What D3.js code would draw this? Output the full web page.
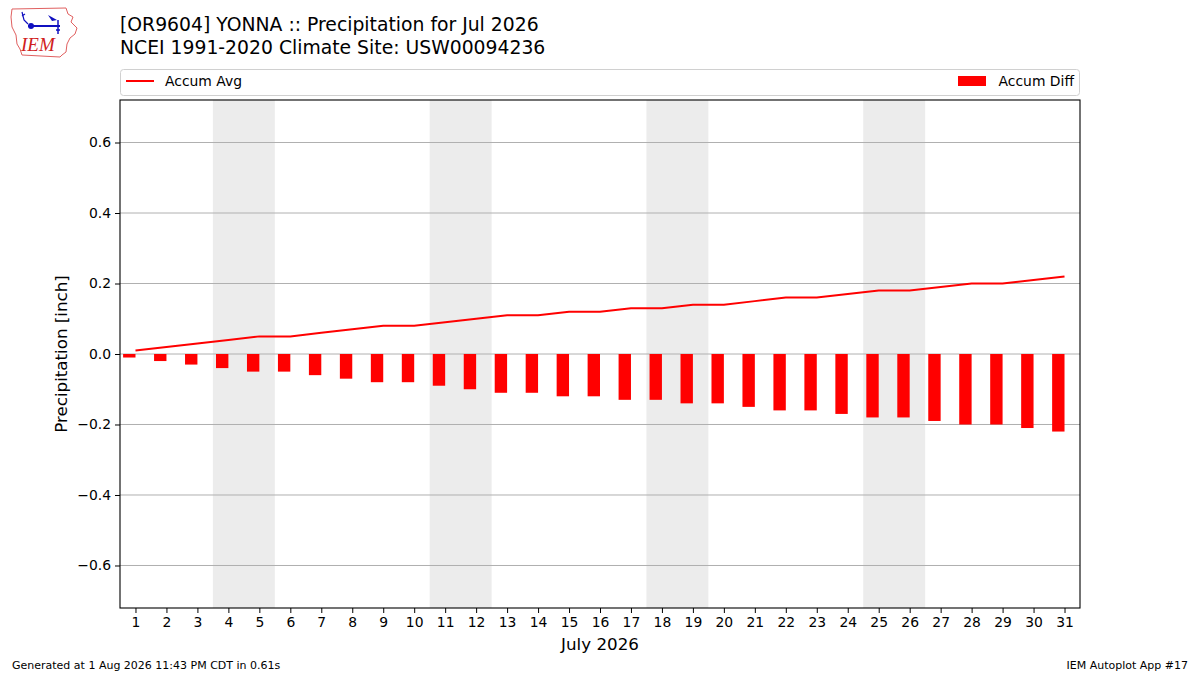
<!DOCTYPE html>
<html><head><meta charset="utf-8">
<script src="https://cdn.jsdelivr.net/npm/d3@7"></script>
<style>body{margin:0;background:#fff;}svg{display:block;font-family:"DejaVu Sans",sans-serif;}</style>
</head><body><svg id="c" width="1200" height="675"></svg>
<script>
const days = d3.range(1, 32);
const accumAvg = [0.01,0.02,0.03,0.04,0.05,0.05,0.06,0.07,0.08,0.08,0.09,0.10,0.11,0.11,0.12,0.12,0.13,0.13,0.14,0.14,0.15,0.16,0.16,0.17,0.18,0.18,0.19,0.20,0.20,0.21,0.22];
const accumDiff = [-0.01,-0.02,-0.03,-0.04,-0.05,-0.05,-0.06,-0.07,-0.08,-0.08,-0.09,-0.10,-0.11,-0.11,-0.12,-0.12,-0.13,-0.13,-0.14,-0.14,-0.15,-0.16,-0.16,-0.17,-0.18,-0.18,-0.19,-0.20,-0.20,-0.21,-0.22];
const weekends = [[4,5],[11,12],[18,19],[25,26]];
const yTicks = [-0.6,-0.4,-0.2,0.0,0.2,0.4,0.6];
const titleLines = ["[OR9604] YONNA :: Precipitation for Jul 2026","NCEI 1991-2020 Climate Site: USW00094236"];

const svg = d3.select("#c");
const L=120, R=1080, T=100, B=608;
const x = d3.scaleLinear().domain([0.5,31.5]).range([L,R]);
const y = d3.scaleLinear().domain([-0.7206,0.7206]).range([B,T]);

// logo
const logo = svg.append("g");
logo.append("path").attr("d","M12,9 L66,8 L68,14 L73,17 L71,22 L77,28 L75,34 L70,38 L67,44 L66,52 L62,55 L60,57 L22,55 L20,49 L17,44 L16,35 L12,27 L11,17 Z")
  .attr("fill","#fff").attr("stroke","#e06060").attr("stroke-width",1);
logo.append("line").attr("x1",28).attr("y1",26).attr("x2",60).attr("y2",26).attr("stroke","#1010c0").attr("stroke-width",2);
logo.append("circle").attr("cx",31).attr("cy",26).attr("r",3).attr("fill","#1010c0");
logo.append("path").attr("d","M48,15 L57,20 L52,21 Z").attr("fill","#1010c0");
logo.append("path").attr("d","M58,20 L58,34 M56,30 L60,30").attr("stroke","#1010c0").attr("stroke-width",1.5).attr("fill","none");
logo.append("path").attr("d","M22,12 L24,20 L28,24 M22,16 L25,14").attr("stroke","#1010c0").attr("stroke-width",1.2).attr("fill","none");
logo.append("text").attr("x",21).attr("y",51).attr("font-family","Liberation Serif,serif").attr("font-style","italic")
  .attr("font-size",19).attr("fill","#d02020").text("IEM");

// titles
svg.selectAll("text.title").data(titleLines).enter().append("text").attr("class","title")
  .attr("x",120).attr("y",(d,i)=>30.5+i*23.5).attr("font-size",18.8).attr("fill","#000").text(d=>d);

// legend
svg.append("rect").attr("x",120.5).attr("y",69.5).attr("width",959).attr("height",26).attr("rx",3)
  .attr("fill","#fff").attr("stroke","#d0d0d0");
svg.append("line").attr("x1",126).attr("x2",154).attr("y1",81).attr("y2",81).attr("stroke","red").attr("stroke-width",2);
svg.append("text").attr("x",165).attr("y",86).attr("font-size",13.9).text("Accum Avg");
svg.append("rect").attr("x",958).attr("y",76).attr("width",28).attr("height",10).attr("fill","red");
svg.append("text").attr("x",1074).attr("y",86).attr("text-anchor","end").attr("font-size",13.9).text("Accum Diff");

// weekend shading
svg.selectAll("rect.wk").data(weekends).enter().append("rect").attr("class","wk")
  .attr("x",d=>x(d[0]-0.5)).attr("width",d=>x(d[1]+0.5)-x(d[0]-0.5))
  .attr("y",T).attr("height",B-T).attr("fill","#ececec");

// grid
svg.selectAll("line.grid").data(yTicks).enter().append("line").attr("class","grid")
  .attr("x1",L).attr("x2",R).attr("y1",d=>y(d)).attr("y2",d=>y(d)).attr("stroke","#b0b0b0").attr("stroke-width",1);

// bars
svg.selectAll("rect.bar").data(days).enter().append("rect").attr("class","bar")
  .attr("x",d=>x(d-0.4)).attr("width",d=>x(d)-x(d-0.4))
  .attr("y",(d,i)=>y(Math.max(0,accumDiff[i]))).attr("height",(d,i)=>Math.abs(y(accumDiff[i])-y(0)))
  .attr("fill","red");

// line
svg.append("path").datum(days).attr("fill","none").attr("stroke","red").attr("stroke-width",2)
  .attr("d",d3.line().x(d=>x(d)).y((d,i)=>y(accumAvg[i])));

// axes
const fmt = v => (v<0?"\u2212":"")+Math.abs(v).toFixed(1);
const xa = svg.append("g").attr("transform",`translate(0,${B})`)
  .call(d3.axisBottom(x).tickValues(days).tickFormat(d3.format("d")).tickSize(5).tickPadding(4));
const ya = svg.append("g").attr("transform",`translate(${L},0)`)
  .call(d3.axisLeft(y).tickValues(yTicks).tickFormat(fmt).tickSize(5).tickPadding(4));
[xa,ya].forEach(g=>{g.select(".domain").remove();g.selectAll("text").attr("font-size",13.9).attr("font-family","DejaVu Sans").attr("fill","#000");g.selectAll("line").attr("stroke","#000");});
svg.append("rect").attr("x",L).attr("y",T).attr("width",R-L).attr("height",B-T).attr("fill","none").attr("stroke","#000").attr("stroke-width",1.1);

// axis labels
svg.append("text").attr("x",(L+R)/2).attr("y",650).attr("text-anchor","middle").attr("font-size",16.7).text("July 2026");
svg.append("text").attr("transform",`translate(67,${(T+B)/2}) rotate(-90)`).attr("text-anchor","middle").attr("font-size",16.7).text("Precipitation [inch]");

// footer
svg.append("text").attr("x",12).attr("y",669).attr("font-size",11).text("Generated at 1 Aug 2026 11:43 PM CDT in 0.61s");
svg.append("text").attr("x",1188).attr("y",669).attr("text-anchor","end").attr("font-size",11).text("IEM Autoplot App #17");
</script></body></html>
